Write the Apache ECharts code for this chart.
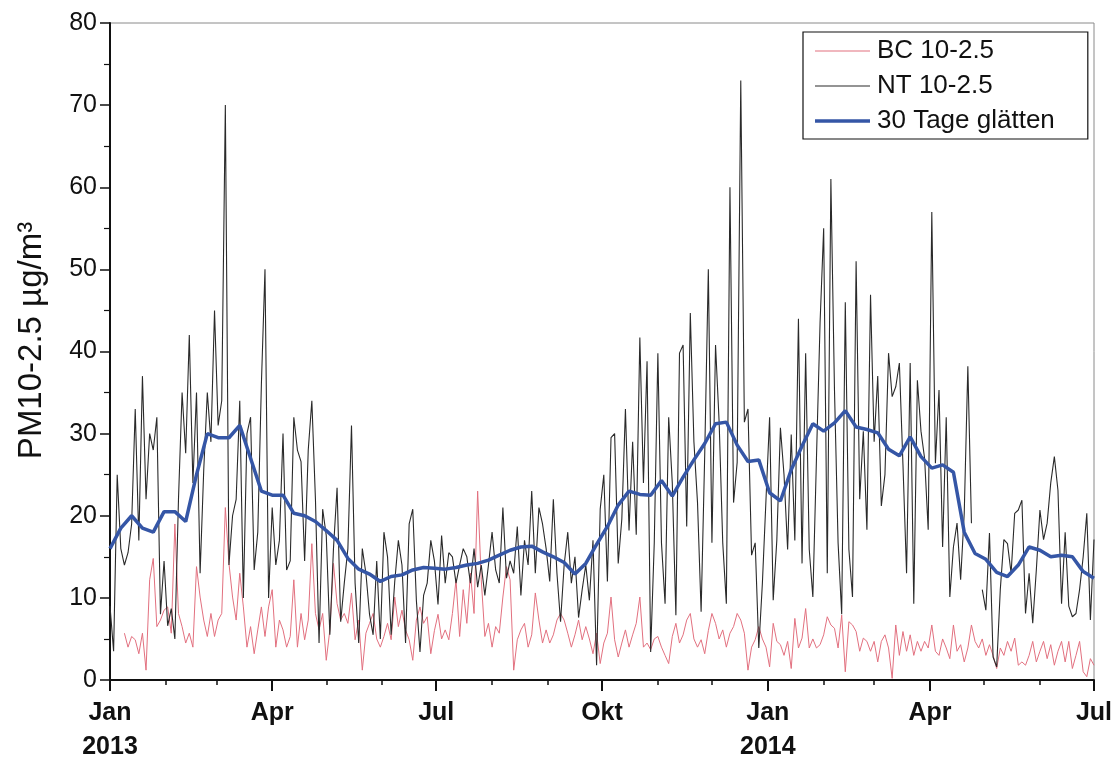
<!DOCTYPE html>
<html><head><meta charset="utf-8">
<script src="https://cdn.jsdelivr.net/npm/echarts@6/dist/echarts.min.js"></script>
<style>html,body{margin:0;padding:0;background:#fff}#c{width:1116px;height:758px}</style>
</head><body><div id="c"></div>
<script>
// ---- data ----
const startYear = 2013;
const totalDays = 546;            // 1 Jan 2013 .. 1 Jul 2014
const dayStep = 2;                // spacing of the daily-series samples (days)
const smoothStep = 6;             // spacing of the smoothed-curve samples (days)
const seriesNames = ['BC 10-2.5', 'NT 10-2.5', '30 Tage glätten'];
const quarterLabels = ['Jan\n2013', 'Apr', 'Jul', 'Okt', 'Jan\n2014', 'Apr', 'Jul'];
const yAxisName = 'PM10-2.5 µg/m³';

const ntValues = [
  9, 3.5, 25, 16, 14, 15.5, 19, 33, 17, 37,
  22, 30, 28, 32, 8, 14.5, 6.6, 8.7, 5, 22,
  35, 27.6, 42, 24, 35, 13, 25.5, 35, 29, 45,
  31, 34, 70, 14, 20, 22, 34, 10, 30, 32,
  13.4, 18, 36, 50, 10, 21, 14, 17, 30, 13.4,
  14.5, 32, 28, 26.6, 14.5, 28, 34, 22, 4.5, 20.8,
  17.6, 5.5, 16, 23.4, 7.1, 11.8, 16, 31, 11.8, 4.5,
  16, 13, 8, 5.5, 14.5, 5, 18, 15, 5.5, 12,
  17, 14, 4.5, 19, 20.8, 9.7, 3.4, 10.3, 11.8, 17,
  14.5, 9.2, 17.6, 11.8, 15.5, 15, 11.8, 14, 16, 15,
  11.8, 16, 11.3, 14, 10.3, 14, 18, 13.4, 11.8, 21,
  12.4, 14.5, 13, 18.7, 10.3, 17, 14, 23, 13, 21,
  19, 16, 12, 22, 13, 7.1, 14, 18, 11.8, 15,
  7.6, 11, 14, 9.7, 17, 1.8, 20.8, 25, 12, 29.5,
  30, 14.2, 19.6, 33, 18.2, 29, 17.7, 41.7, 24, 38.8,
  3.4, 16.7, 39.8, 16.7, 9.3, 32, 24, 7.9, 39.8, 40.8,
  18.7, 44.7, 29, 21.6, 8.3, 27.5, 50, 16.7, 40.8, 31.4,
  16.7, 9.3, 60, 21.6, 26.5, 73, 31.4, 33, 15.2, 16.7,
  3.9, 11.8, 22, 32, 9.7, 17, 30.7, 25, 15.9, 29.9,
  17, 44, 14.2, 39.8, 15.9, 10.1, 27, 43.5, 55, 13,
  61, 35.3, 16.7, 8, 46, 15.9, 10.1, 51, 22, 30.3,
  18.3, 46.9, 29, 37, 21.2, 25, 39.8, 34.5, 35.7, 38.6,
  26.2, 13, 38.6, 9.3, 36.5, 30.3, 27, 18.3, 57, 26.4,
  35.3, 16.2, 32, 10.1, 16.2, 19.1, 12.2, 20.3, 38.2, 19.1,
  null, null, 11, 8.5, 17.9, 2.8, 1.6, 11, 17.1, 16.6,
  13, 20.3, 20.7, 21.9, 8.1, 13, 6.9, 13.4, 20.7, 17.1,
  19.1, 24, 27.2, 23.1, 9.3, 18, 9, 7.7, 8.1, 11,
  15, 20.3, 7.3, 17.1
];

const bcValues = [
  null, null, null, null, 5.7, 4, 5.3, 4.9, 3.2, 5.7,
  1.2, 12.2, 14.8, 6.5, 7.3, 8.5, 8.9, 5.7, 19, 8.1,
  6.5, 4.5, 5.7, 4, 13.8, 10.1, 7.3, 5.3, 8.1, 5.3,
  7.3, 8.1, 21, 14.2, 10.1, 7.3, 13, 8.9, 4, 6.5,
  3.2, 6.1, 8.9, 5.3, 8.9, 11, 4, 7.3, 6.1, 4,
  5.3, 12.2, 4, 8.1, 4.9, 7.3, 16.6, 8.1, 6.1, 8.1,
  2.4, 6.1, 14.2, 9.3, 7.3, 8.1, 6.9, 10.6, 4.9, 7.3,
  1.2, 5.7, 6.9, 8.1, 5, 4, 5.3, 6.9, 4.9, 10.1,
  6.5, 8.5, 6.1, 4.9, 2.4, 7.3, 8.9, 6.9, 7.7, 3.2,
  6, 8, 5, 6.1, 4.9, 8.1, 12.2, 5.3, 11, 6.9,
  13, 8.1, 23, 12.2, 5.3, 6.9, 4, 6.5, 5.7, 10.1,
  13.8, 12.2, 1.2, 4.9, 6.1, 6.9, 4, 5.5, 10.6, 7.3,
  4.5, 6.1, 4.5, 5.5, 7.3, 8.1, 7.3, 5.7, 4, 5.5,
  7.3, 4.9, 6.5, 5, 3.2, 5.7, 2, 4.5, 5.7, 10.1,
  4.9, 2.8, 4.5, 6.1, 4, 5.5, 6.9, 10.1, 4, 4.5,
  3.7, 5, 5.3, 4, 3, 2, 5.3, 6.9, 4.5, 5.5,
  7.3, 8.1, 5, 4, 4.9, 3.2, 6, 8.1, 6.9, 5,
  6.1, 4, 5.7, 6.5, 8.1, 7.3, 5.7, 1.2, 4, 4.9,
  6.5, 5, 4, 1.6, 6.9, 4.7, 4.3, 3, 4.7, 1.4,
  7.5, 3.9, 5.1, 8.7, 3.9, 5, 3.9, 4.3, 5.5, 7.7,
  6.7, 6.3, 3.9, 7.9, 1, 7.1, 6.7, 5.9, 3.5, 5.1,
  4.7, 3.5, 4.7, 2.2, 4.7, 5.5, 3.9, 0.2, 6.7, 3,
  5.9, 3.5, 5.5, 3, 4.7, 3.5, 4.7, 3.9, 6.7, 3.5,
  3, 5, 3.9, 2.6, 6.7, 3.5, 4.3, 2.2, 3.9, 6.7,
  4.7, 3.9, 5, 3, 4.3, 3, 1.4, 3.9, 3, 4.7,
  3.5, 5.1, 1.8, 2.2, 1.8, 3, 4.7, 2.2, 3.5, 4.7,
  2.6, 4.3, 1.8, 3.5, 4.7, 2.2, 4.7, 1.4, 3, 4.7,
  1, 0.4, 2.6, 1.8
];

const smoothValues = [
  16, 18.5, 20, 18.5, 18, 20.5, 20.5, 19.3, 25, 30,
  29.5, 29.5, 31, 27, 23, 22.5, 22.5, 20.3, 20, 19.3,
  18.2, 17, 14.8, 13.5, 12.9, 12, 12.6, 12.8, 13.4, 13.7,
  13.6, 13.5, 13.7, 14, 14.2, 14.6, 15.2, 15.8, 16.2, 16.3,
  15.6, 15, 14.3, 12.9, 14.2, 16.5, 18.7, 21.3, 23, 22.6,
  22.5, 24.3, 22.4, 24.7, 26.8, 28.8, 31.2, 31.4, 28.6, 26.6,
  26.8, 22.8, 21.8, 25.6, 28.5, 31.2, 30.3, 31.3, 32.8, 30.8,
  30.5, 30.1, 28.1, 27.3, 29.6, 27.2, 25.8, 26.2, 25.3, 18,
  15.4, 14.7, 13.1, 12.6, 14, 16.2, 15.8, 15, 15.2, 15,
  13.2, 12.4
];

// ---- build helpers ----
const days = [];
const monthStart = {};
const quarterLabelAt = {};
let q = 0;
for (let d = 0; d <= totalDays; d++) {
  const dt = new Date(Date.UTC(startYear, 0, 1 + d));
  days.push(String(d));
  if (dt.getUTCDate() === 1) {
    monthStart[d] = true;
    if (dt.getUTCMonth() % 3 === 0) { quarterLabelAt[d] = quarterLabels[q++]; }
  }
}
const toPairs = (arr, step) => arr.map((v, i) => [i * step, v == null ? null : v]);

const colBC = '#e2707f', colNT = '#2a2a2a', colSm = '#3556a6';
const font = 'Liberation Sans, Arial, sans-serif';
const chart = echarts.init(document.getElementById('c'), null, { renderer: 'canvas' });
chart.setOption({
  animation: false,
  backgroundColor: '#fff',
  grid: {
    left: 110, right: 22, top: 23, bottom: 78,
    outerBoundsMode: 'none', containLabel: false,
    show: true, borderColor: '#8a8a8a', borderWidth: 1
  },
  legend: {
    data: [
      { name: seriesNames[0], icon: 'path://M0,0H110V2H0Z' },
      { name: seriesNames[1], icon: 'path://M0,0H110V2H0Z' },
      { name: seriesNames[2], icon: 'path://M0,0H110V7H0Z' }
    ],
    orient: 'vertical',
    left: 803, top: 32,
    padding: [6, 33, 5, 12],
    itemGap: 9,
    itemWidth: 55, itemHeight: 14,
    borderColor: '#111', borderWidth: 1.2, borderRadius: 0,
    backgroundColor: '#fff',
    textStyle: { fontFamily: font, fontSize: 26, color: '#111', padding: [0, 0, 0, 2] }
  },
  xAxis: [
    { type: 'value', min: 0, max: totalDays, show: false },
    {
      type: 'category', data: days, boundaryGap: false, position: 'bottom',
      axisLine: { show: true, lineStyle: { color: '#111', width: 2 } },
      axisTick: { show: true, length: 5, interval: (i) => !!monthStart[i], lineStyle: { color: '#111', width: 1.5 } },
      axisLabel: { show: false }, splitLine: { show: false }
    },
    {
      type: 'category', data: days, boundaryGap: false, position: 'bottom',
      axisLine: { show: false },
      axisTick: { show: true, length: 11, interval: (i) => quarterLabelAt[i] !== undefined, lineStyle: { color: '#111', width: 2 } },
      axisLabel: {
        show: true, interval: (i) => quarterLabelAt[i] !== undefined,
        formatter: (v, i) => quarterLabelAt[i] || '',
        fontFamily: font, fontSize: 25, fontWeight: 'bold', color: '#111',
        lineHeight: 34, margin: 16, align: 'center'
      },
      splitLine: { show: false }
    }
  ],
  yAxis: {
    type: 'value', min: 0, max: 80, interval: 10,
    name: yAxisName, nameLocation: 'middle', nameGap: 62, nameRotate: 90,
    nameTextStyle: { fontFamily: font, fontSize: 33, color: '#111', padding: [0, 0, 0, 22] },
    axisLine: { show: true, lineStyle: { color: '#111', width: 2 } },
    axisTick: { show: true, length: 10, lineStyle: { color: '#111', width: 1.5 } },
    minorTick: { show: true, splitNumber: 2, length: 6, lineStyle: { color: '#111', width: 1.2 } },
    axisLabel: { fontFamily: font, fontSize: 25, color: '#111', margin: 13 },
    splitLine: { show: false }, minorSplitLine: { show: false }
  },
  series: [
    {
      name: seriesNames[0], type: 'line', xAxisIndex: 0, data: toPairs(bcValues, dayStep),
      symbol: 'none', connectNulls: false,
      lineStyle: { color: colBC, width: 1 }, itemStyle: { color: colBC }, z: 2
    },
    {
      name: seriesNames[1], type: 'line', xAxisIndex: 0, data: toPairs(ntValues, dayStep),
      symbol: 'none', connectNulls: false,
      lineStyle: { color: colNT, width: 1.1 }, itemStyle: { color: colNT }, z: 3
    },
    {
      name: seriesNames[2], type: 'line', xAxisIndex: 0, data: toPairs(smoothValues, smoothStep),
      symbol: 'none',
      lineStyle: { color: colSm, width: 3.5 }, itemStyle: { color: colSm }, z: 4
    }
  ]
});
</script>
</body></html>
